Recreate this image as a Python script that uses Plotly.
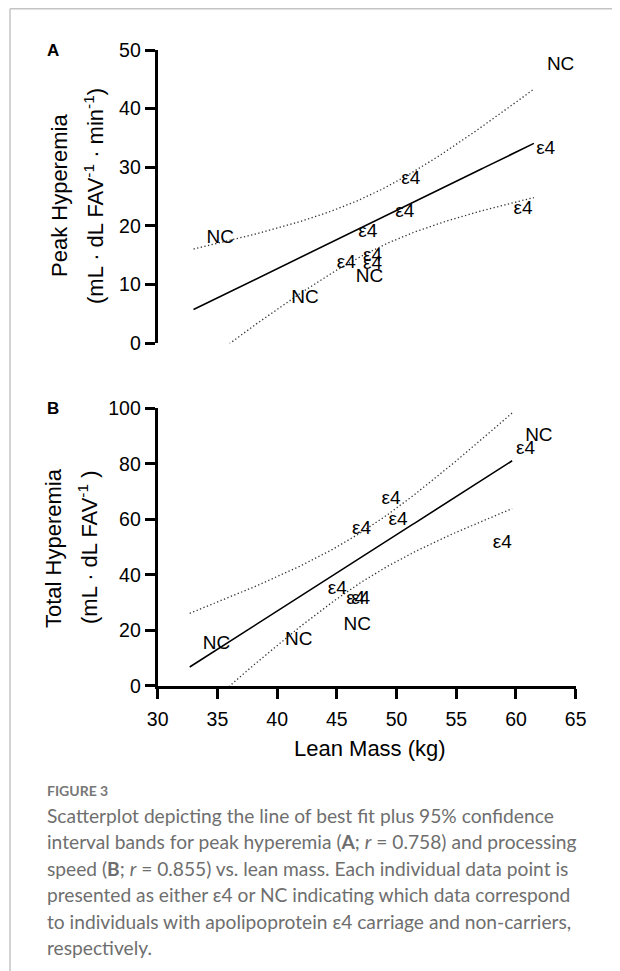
import numpy as np
import plotly.graph_objects as go

# ---------------- data ----------------
# Panel A: peak hyperemia vs lean mass
a_nc_lean = [33.0, 40.1, 45.5, 61.5]
a_nc_peak = [17.9, 7.7, 11.25, 47.4]
a_e4_lean = [43.9, 45.7, 46.1, 46.1, 48.8, 49.3, 58.7, 60.6]
a_e4_peak = [13.6, 19.0, 14.76, 13.5, 22.3, 27.95, 22.8, 33.1]

# Panel B: total hyperemia vs lean mass
b_nc_lean = [32.68, 39.58, 44.48, 59.68]
b_nc_total = [15.0, 16.5, 21.9, 90.1]
b_e4_lean = [43.16, 44.69, 45.11, 45.19, 47.66, 48.23, 56.96, 58.92]
b_e4_total = [34.75, 31.1, 31.1, 56.5, 67.3, 59.7, 51.3, 85.2]

x_ticks = [30, 35, 40, 45, 50, 55, 60, 65]
a_y_ticks = [0, 10, 20, 30, 40, 50]
b_y_ticks = [0, 20, 40, 60, 80, 100]

caption_lines = [
    "Scatterplot depicting the line of best fit plus 95% confidence",
    "interval bands for peak hyperemia (<b>A</b>; <i>r</i> = 0.758) and processing",
    "speed (<b>B</b>; <i>r</i> = 0.855) vs. lean mass. Each individual data point is",
    "presented as either ε4 or NC indicating which data correspond",
    "to individuals with apolipoprotein ε4 carriage and non-carriers,",
    "respectively.",
]

T_CRIT = 2.228  # two-sided 95% t value, df = n - 2 = 10

# page body has an 8px margin; the figure fills the rest of the 620x971 window
OFF = 8
W, H = 620 - OFF, 971 - OFF


def px_x(p):
    return (p - OFF) / W


def px_y(p):
    return 1 - (p - OFF) / H


def fit_band(x, y, n_pts=150):
    x = np.asarray(x, float)
    y = np.asarray(y, float)
    n = len(x)
    b, a = np.polyfit(x, y, 1)
    xs = np.linspace(x.min(), x.max(), n_pts)
    yhat = a + b * xs
    resid = y - (a + b * x)
    s = np.sqrt(np.sum(resid ** 2) / (n - 2))
    sxx = np.sum((x - x.mean()) ** 2)
    half = T_CRIT * s * np.sqrt(1.0 / n + (xs - x.mean()) ** 2 / sxx)
    return xs, yhat, yhat - half, yhat + half


FONT = "Liberation Sans, Arial, sans-serif"
CAP_FONT = "Lato, Noto Sans, sans-serif"

fig = go.Figure()


def add_panel(xa, ya, nc_x, nc_y, e4_x, e4_y):
    allx = list(nc_x) + list(e4_x)
    ally = list(nc_y) + list(e4_y)
    xs, yhat, lo, hi = fit_band(allx, ally)
    for band in (lo, hi):
        fig.add_trace(go.Scatter(x=xs, y=band, mode="lines", xaxis=xa, yaxis=ya,
                                 line=dict(color="#333", width=1.3, dash="1.3px,2.4px"),
                                 hoverinfo="skip", showlegend=False))
    fig.add_trace(go.Scatter(x=xs, y=yhat, mode="lines", xaxis=xa, yaxis=ya,
                             line=dict(color="black", width=1.6),
                             hoverinfo="skip", showlegend=False))
    for xx, yy, lab in ((e4_x, e4_y, "ε4"), (nc_x, nc_y, "NC")):
        fig.add_trace(go.Scatter(x=xx, y=yy, mode="markers+text", xaxis=xa, yaxis=ya,
                                 text=[lab] * len(xx), textposition="middle right",
                                 textfont=dict(family=FONT, size=19, color="black"),
                                 marker=dict(size=19.2, color="rgba(0,0,0,0)"),
                                 cliponaxis=False, showlegend=False))


add_panel("x", "y", a_nc_lean, a_nc_peak, a_e4_lean, a_e4_peak)
add_panel("x2", "y2", b_nc_lean, b_nc_total, b_e4_lean, b_e4_total)

xdom = [px_x(157.7), px_x(575.7)]
axis_common = dict(showgrid=False, zeroline=False, linecolor="black", linewidth=3,
                   ticks="outside", ticklen=10, tickwidth=3, tickcolor="black",
                   automargin=False,
                   tickfont=dict(family=FONT, size=19.5, color="black"))

fig.update_layout(
    template="none",
    width=W, height=H, autosize=False,
    margin=dict(l=0, r=0, t=0, b=0, pad=0, autoexpand=False),
    paper_bgcolor="white", plot_bgcolor="white",
    showlegend=False,
    xaxis=dict(domain=xdom, range=[30, 65], visible=False, anchor="y", automargin=False),
    yaxis=dict(domain=[px_y(343.3), px_y(50)], range=[0, 50], anchor="x",
               tickvals=a_y_ticks, showline=True, **axis_common),
    xaxis2=dict(domain=xdom, range=[30, 65], anchor="y2", tickvals=x_ticks,
                showline=True, ticklabelstandoff=4, **axis_common),
    yaxis2=dict(domain=[px_y(685.7), px_y(408.3)], range=[0, 100], anchor="x2",
                tickvals=b_y_ticks, showline=True, **axis_common),
)

ann = []


def text(x, y, t, size, family=FONT, color="black", angle=0, xanchor="center",
         yanchor="middle", align="center"):
    ann.append(dict(x=px_x(x), y=px_y(y), xref="paper", yref="paper", text=t,
                    showarrow=False, textangle=angle, xanchor=xanchor, yanchor=yanchor,
                    align=align, font=dict(family=family, size=size, color=color)))


text(53, 51, "<b>A</b>", 17)
text(53, 408, "<b>B</b>", 17)
text(60, 196, "Peak Hyperemia", 22, angle=-90)
text(94, 196, "(mL · dL FAV<sup>-1</sup> · min<sup>-1</sup>)", 22, angle=-90)
text(53, 548, "Total Hyperemia", 22, angle=-90)
text(88, 548, "(mL · dL FAV<sup>-1</sup> )", 22, angle=-90)
text(370, 748, "Lean Mass (kg)", 22)

text(45, 790, "<b>FIGURE 3</b>", 14, family=CAP_FONT, color="#777777", xanchor="left")
for i, line in enumerate(caption_lines):
    text(45, 815 + 26.5 * i, line, 19.2, family=CAP_FONT, color="#6e6e6e",
         xanchor="left", align="left")

fig.update_layout(annotations=ann)

frame = dict(type="line", xref="paper", yref="paper", line=dict(color="#c4c4c4", width=1.5))
fig.add_shape(x0=px_x(10), x1=px_x(10), y0=0, y1=px_y(8.75), **frame)
fig.add_shape(x0=px_x(10), x1=1, y0=px_y(8.75), y1=px_y(8.75), **frame)

fig.write_html("out.html")
